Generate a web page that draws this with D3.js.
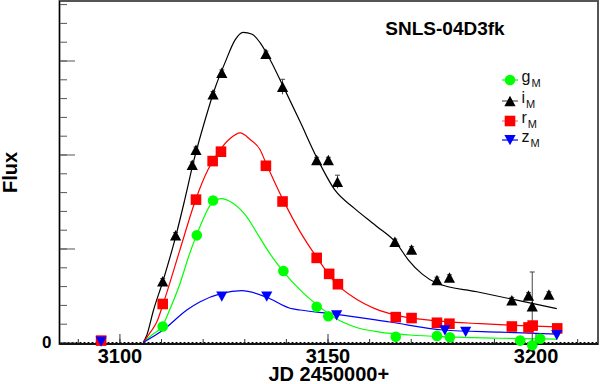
<!DOCTYPE html>
<html lang="en">
<head>
<meta charset="utf-8">
<title>SNLS-04D3fk light curve</title>
<script src="https://cdn.jsdelivr.net/npm/d3@7"></script>
<style>
  body { margin: 0; background: #fff; }
  svg { display: block; font-family: 'Liberation Sans', Arial, Helvetica, sans-serif; }
</style>
</head>
<body>
<div id="chart"></div>
<script>

/* Data */
/* ========================== */

// observed points [JD - 2450000, flux]
var gObs = [[3110.4,0.17],[3118.6,1.14],[3122.5,1.51],[3139.4,0.76],[3147.4,0.38],[3150.2,0.28],
            [3166.4,0.06],[3176.3,0.07],[3179.4,0.055],[3196.3,0.02],[3199.2,-0.03],[3201.1,0.04]];
var iObs = [[3110.4,0.65],[3113.5,1.14],[3117.5,1.89],[3118.4,2.05],[3122.5,2.64],[3124.6,2.87],
            [3135.2,3.07],[3139.2,2.72],[3147.4,1.94],[3150.2,1.94],[3152.4,1.71],[3166.2,1.07],
            [3170.2,0.99],[3176.3,0.665],[3179.3,0.69],[3194.3,0.45],[3198.3,0.50],[3199.2,0.385],[3203.2,0.51]];
var iErr = [0.03,0.03,0.03,0.03,0.03,0.03,0.03,0.08,0.03,0.03,0.07,0.03,0.03,0.03,0.03,0.03,0.03,0.365,0.03];
var rObs = [[3095.6,0.02],[3110.4,0.41],[3118.4,1.52],[3122.4,1.93],[3124.4,2.03],[3135.2,1.88],
            [3139.2,1.50],[3147.4,0.90],[3150.4,0.73],[3152.5,0.62],[3166.4,0.27],[3170.2,0.26],
            [3176.3,0.21],[3179.3,0.20],[3194.3,0.17],[3198.3,0.16],[3199.3,0.18],[3205.2,0.15]];
var zObs = [[3095.6,0.01],[3124.6,0.49],[3135.4,0.49],[3152.2,0.29],[3178.2,0.13],[3183.2,0.115],[3205.1,0.08]];

// fitted model curves
var gCurve = [[3105.7,0],[3107.8,0.08],[3110.4,0.18],[3112.1,0.35],[3114.5,0.62],[3116.9,0.95],
              [3118.6,1.15],[3120.6,1.36],[3122.5,1.50],[3124.4,1.53],[3127.0,1.49],[3130.2,1.36],
              [3133.8,1.11],[3136.7,0.91],[3139.3,0.76],[3143.4,0.56],[3147.5,0.40],[3151.8,0.26],
              [3156.6,0.165],[3162.6,0.11],[3169.8,0.08],[3179.4,0.06],[3191.5,0.045],[3205.2,0.035]];
var iCurve = [[3105.7,0],[3106.6,0.08],[3108.1,0.33],[3110.5,0.66],[3113.6,1.14],[3115.7,1.52],
              [3117.9,1.94],[3120.6,2.37],[3123.0,2.71],[3125.4,2.98],[3127.8,3.22],[3129.7,3.30],
              [3131.9,3.28],[3133.8,3.19],[3135.7,3.05],[3139.3,2.73],[3143.4,2.35],[3147.5,1.96],
              [3151.8,1.62],[3156.4,1.43],[3161.7,1.24],[3166.5,1.06],[3169.4,0.88],[3172.7,0.73],
              [3176.3,0.63],[3185.9,0.54],[3195.5,0.45],[3205.1,0.36]];
var rCurve = [[3105.7,0],[3107.3,0.10],[3109.0,0.22],[3110.5,0.41],[3114.5,0.98],[3118.4,1.53],
              [3121.3,1.84],[3124.2,2.05],[3126.6,2.17],[3129.0,2.23],[3131.4,2.16],[3133.8,2.05],
              [3135.2,1.91],[3139.3,1.52],[3143.4,1.18],[3147.5,0.90],[3151.8,0.64],[3156.6,0.47],
              [3161.4,0.36],[3167.4,0.28],[3176.3,0.23],[3186.7,0.20],[3196.3,0.18],[3205.2,0.165]];
var zCurve = [[3105.7,0],[3110.5,0.133],[3116.2,0.346],[3119.4,0.434],[3124.6,0.523],[3129.4,0.551],
              [3135.4,0.481],[3141.0,0.364],[3143.4,0.346],[3152.2,0.30],[3165.0,0.218],[3177.8,0.133],
              [3191.5,0.11],[3205.1,0.09]];

var xMajor = [3100, 3150, 3200];
var yMajor = [0, 1, 2, 3];
var legendNames = ['g', 'i', 'r', 'z'];


/* Setup */
/* ===== */

var width = 600,
    height = 384,
    frame = { left: 59.5, top: 1, right: 598, bottom: 344 };

var svg = d3.select('#chart').append('svg')
    .attr('width', width)
    .attr('height', height);

var x = d3.scaleLinear().domain([3085.6, 3215.0]).range([frame.left, frame.right]);
var y = d3.scaleLinear().domain([-0.016, 3.633]).range([frame.bottom, frame.top]);

var line = d3.line()
    .x(function(d) { return x(d[0]); })
    .y(function(d) { return y(d[1]); })
    .curve(d3.curveMonotoneX);

// marker shapes, centred on their box
function markerPath(kind) {
  if (kind === 'circle') return d3.symbol().type(d3.symbolCircle).size(Math.PI * 5.3 * 5.3)();
  if (kind === 'square') return 'M-5.3,-5.3H5.3V5.3H-5.3Z';
  if (kind === 'up') return 'M0,-5.3L5.6,5.2L-5.6,5.2Z';
  return 'M0,5.3L5.6,-5.0L-5.6,-5.0Z';
}

var series = [
  { name: 'g', obs: gObs, curve: gCurve, color: '#00ff00', legendLine: '#00ff00', marker: 'circle' },
  { name: 'i', obs: iObs, curve: iCurve, color: '#000000', legendLine: '#555555', marker: 'up', err: iErr },
  { name: 'r', obs: rObs, curve: rCurve, color: '#ff0000', legendLine: '#ff7070', marker: 'square' },
  { name: 'z', obs: zObs, curve: zCurve, color: '#0000ff', legendLine: '#0000ff', marker: 'down' }
];


/* Axes and frame */
/* ============== */

// zero line
svg.append('line')
    .attr('x1', frame.left).attr('x2', frame.right)
    .attr('y1', y(0)).attr('y2', y(0))
    .attr('stroke', '#000').attr('stroke-width', 1)
    .attr('stroke-dasharray', '2,2');

// x minor + major ticks (drawn inward)
var xAxisMinor = d3.axisBottom(x)
    .tickValues(d3.range(3090, 3215, 10))
    .tickSizeInner(-5).tickSizeOuter(0)
    .tickFormat('');
var xAxisMajor = d3.axisBottom(x)
    .tickValues(xMajor)
    .tickSizeInner(-10).tickSizeOuter(0)
    .tickPadding(5)
    .tickFormat(d3.format('d'));

[xAxisMinor, xAxisMajor].forEach(function(ax) {
  var g = svg.append('g')
      .attr('transform', 'translate(0,' + frame.bottom + ')')
      .call(ax);
  g.select('.domain').remove();
  g.selectAll('.tick line').attr('stroke', '#333');
  g.selectAll('.tick text')
      .attr('fill', '#000')
      .style('font-size', '20px')
      .style('font-weight', 'bold');
});

// y minor + major ticks
var yAxisMinor = d3.axisLeft(y)
    .tickValues(d3.range(0, 3.61, 0.2))
    .tickSizeInner(-7.5).tickSizeOuter(0)
    .tickFormat('');
var yAxisMajor = d3.axisLeft(y)
    .tickValues(yMajor)
    .tickSizeInner(-15.5).tickSizeOuter(0)
    .tickPadding(8)
    .tickFormat(function(d) { return d === 0 ? '0' : ''; });

[yAxisMinor, yAxisMajor].forEach(function(ax) {
  var g = svg.append('g')
      .attr('transform', 'translate(' + frame.left + ',0)')
      .call(ax);
  g.select('.domain').remove();
  g.selectAll('.tick line').attr('stroke', '#555');
  g.selectAll('.tick text')
      .attr('fill', '#000')
      .style('font-size', '17px')
      .style('font-weight', 'bold');
});

// frame
svg.append('rect')
    .attr('x', frame.left).attr('y', frame.top)
    .attr('width', frame.right - frame.left)
    .attr('height', frame.bottom - frame.top)
    .attr('fill', 'none')
    .attr('stroke', '#555')
    .attr('stroke-width', 2);

svg.append('line')
    .attr('x1', frame.left).attr('x2', frame.left)
    .attr('y1', frame.top).attr('y2', frame.bottom)
    .attr('stroke', '#000');
svg.append('line')
    .attr('x1', frame.left).attr('x2', frame.right)
    .attr('y1', frame.bottom).attr('y2', frame.bottom)
    .attr('stroke', '#000').attr('stroke-width', 1.5);


/* Curves and points */
/* ================= */

series.forEach(function(s) {
  svg.append('path')
      .datum(s.curve)
      .attr('d', line)
      .attr('fill', 'none')
      .attr('stroke', s.color)
      .attr('stroke-width', 1.2);
});

series.forEach(function(s) {

  // error bars (only the ones sticking out of the marker show)
  if (s.err) {
    var eb = svg.append('g').attr('stroke', '#444').attr('stroke-width', 1);
    s.obs.forEach(function(d, i) {
      var e = s.err[i], cx = x(d[0]);
      eb.append('line')
          .attr('x1', cx).attr('x2', cx)
          .attr('y1', y(d[1] - e)).attr('y2', y(d[1] + e));
      eb.append('line')
          .attr('x1', cx - 2.5).attr('x2', cx + 2.5)
          .attr('y1', y(d[1] + e)).attr('y2', y(d[1] + e));
    });
  }

  svg.append('g').selectAll('path')
    .data(s.obs)
    .join('path')
      .attr('d', markerPath(s.marker))
      .attr('transform', function(d) { return 'translate(' + x(d[0]) + ',' + y(d[1]) + ')'; })
      .attr('fill', s.color);
});


/* Legend */
/* ====== */

var legendY = [80, 101, 121, 140];

var legend = svg.append('g');
series.forEach(function(s, i) {
  var ly = legendY[i];
  legend.append('line')
      .attr('x1', 502).attr('x2', 518)
      .attr('y1', ly).attr('y2', ly)
      .attr('stroke', s.legendLine).attr('stroke-width', 1.2);
  legend.append('path')
      .attr('d', markerPath(s.marker))
      .attr('transform', 'translate(510,' + ly + ')')
      .attr('fill', s.color);
  var t = legend.append('text')
      .attr('x', 521.5).attr('y', ly + 2)
      .attr('fill', '#111')
      .style('font-size', '16px');
  t.append('tspan').text(legendNames[i]);
  t.append('tspan')
      .attr('dx', 1).attr('dy', 5)
      .style('font-size', '11px')
      .text('M');
});


/* Titles */
/* ====== */

svg.append('text')
    .attr('x', 445).attr('y', 35)
    .attr('text-anchor', 'middle')
    .style('font-size', '19px')
    .style('font-weight', 'bold')
    .text('SNLS-04D3fk');

svg.append('text')
    .attr('x', (frame.left + frame.right) / 2).attr('y', 381)
    .attr('text-anchor', 'middle')
    .style('font-size', '20px')
    .style('font-weight', 'bold')
    .text('JD 2450000+');

svg.append('text')
    .attr('transform', 'translate(17,' + (frame.top + frame.bottom) / 2 + ') rotate(-90)')
    .attr('text-anchor', 'middle')
    .style('font-size', '20px')
    .style('font-weight', 'bold')
    .text('Flux');

</script>
</body>
</html>
